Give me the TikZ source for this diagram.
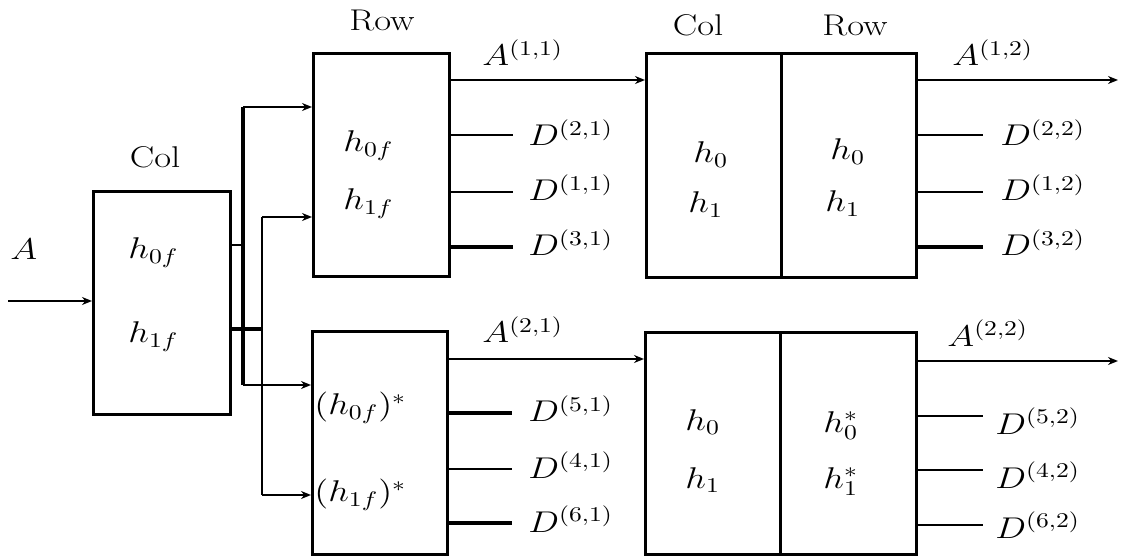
\RequirePackage{fix-cm}
\documentclass[tikz,border=0pt]{standalone}
\usepackage{graphicx}
\usetikzlibrary{arrows.meta}
\newcommand{\sx}[1]{\scalebox{1.22}[1]{#1}}
\begin{document}
\begin{tikzpicture}[x=0.5pt,y=-0.5pt,
  box/.style={draw,line width=1.3pt,inner sep=0pt,anchor=north west},
  txt/.style={inner sep=0pt,font=\fontsize{15}{18}\selectfont},
  lab/.style={txt,anchor=base west},
  ar/.style={line width=1.1pt,-{Stealth[length=5pt,width=4pt]}},
  ln/.style={line width=1.1pt},
  thk/.style={line width=1.6pt}]
\useasboundingbox (0,0) rectangle (1121,556);
% boxes
\node[box,minimum width=68.5pt,minimum height=111.5pt] (colA) at (92,190) {};
\node[box,minimum width=68pt,minimum height=111.5pt] (rowB) at (312,52) {};
\node[box,minimum width=67.5pt,minimum height=111.5pt] (rowC) at (311,330) {};
\node[box,minimum width=67.5pt,minimum height=112pt] (colD) at (645,52) {};
\node[box,minimum width=67.5pt,minimum height=112pt] (rowD) at (780,52) {};
\node[box,minimum width=67.5pt,minimum height=111pt] (colE) at (644,331) {};
\node[box,minimum width=68pt,minimum height=111pt] (rowE) at (779,331) {};
% headings
\node[txt] (hc1) at (155,157) {\sx{Col}};
\node[txt] (hr1) at (382,20) {\sx{Row}};
\node[txt] (hc2) at (698,25) {\sx{Col}};
\node[txt] (hr2) at (855,25) {\sx{Row}};
% inner labels
\node[lab] (t1) at (128,259) {\sx{$h_{0f}$}};
\node[lab] (t2) at (128,343) {\sx{$h_{1f}$}};
\node[lab] (t3) at (343,152) {\sx{$h_{0f}$}};
\node[lab] (t4) at (343,210) {\sx{$h_{1f}$}};
\node[lab] (t5) at (314,415) {\sx{$(h_{0f})^*$}};
\node[lab] (t6) at (314,502) {\sx{$(h_{1f})^*$}};
\node[lab] (t7) at (693,163) {\sx{$h_0$}};
\node[lab] (t8) at (688,213) {\sx{$h_1$}};
\node[lab] (t9) at (830,160) {\sx{$h_0$}};
\node[lab] (t10) at (825,212) {\sx{$h_1$}};
\node[lab] (t11) at (685,430) {\sx{$h_0$}};
\node[lab] (t12) at (685,488) {\sx{$h_1$}};
\node[lab] (t13) at (823,432) {\sx{$h_0^*$}};
\node[lab] (t14) at (823,488) {\sx{$h_1^*$}};
% input
\coordinate (in) at (8,301);
\draw[ar] (in) -- (in -| colA.west);
\node[lab] (lA) at (10,260) {\sx{$A$}};
% fan-out
\coordinate (p0) at (243,245); \coordinate (p0t) at (243,107); \coordinate (p0b) at (243,385);
\coordinate (p1) at (262,329); \coordinate (p1t) at (262,217); \coordinate (p1b) at (262,495);
\draw[ln] (p0 -| colA.east) -- (p0);
\draw[thk] (p1 -| colA.east) -- (p1);
\draw[thk] (p0t) -- (p0b);
\draw[ln] (p1t) -- (p1b);
\draw[ar] (p0t) -- (p0t -| rowB.west);
\draw[ar] (p1t) -- (p1t -| rowB.west);
\draw[ar] (p0b) -- (p0b -| rowC.west);
\draw[ar] (p1b) -- (p1b -| rowC.west);
% top-left outputs
\coordinate (a11) at (0,80);
\draw[ar] (a11 -| rowB.east) -- (a11 -| colD.west);
\node[lab] (la11) at (482,66) {\sx{$A^{(1,1)}$}};
\coordinate (d21) at (513,135); \draw[ln] (d21 -| rowB.east) -- (d21);
\coordinate (d11) at (513,192); \draw[ln] (d11 -| rowB.east) -- (d11);
\coordinate (d31) at (513,247); \draw[thk] (d31 -| rowB.east) -- (d31);
\node[lab] (ld21) at (528,146) {\sx{$D^{(2,1)}$}};
\node[lab] (ld11) at (528,201) {\sx{$D^{(1,1)}$}};
\node[lab] (ld31) at (528,256) {\sx{$D^{(3,1)}$}};
% bottom-left outputs
\coordinate (a21) at (0,359);
\draw[ar] (a21 -| rowC.east) -- (a21 -| colE.west);
\node[lab] (la21) at (482,343) {\sx{$A^{(2,1)}$}};
\coordinate (d51) at (512,413); \draw[thk] (d51 -| rowC.east) -- (d51);
\coordinate (d41) at (512,469); \draw[ln] (d41 -| rowC.east) -- (d41);
\coordinate (d61) at (512,523); \draw[thk] (d61 -| rowC.east) -- (d61);
\node[lab] (ld51) at (528,422) {\sx{$D^{(5,1)}$}};
\node[lab] (ld41) at (528,478) {\sx{$D^{(4,1)}$}};
\node[lab] (ld61) at (528,532) {\sx{$D^{(6,1)}$}};
% top-right outputs
\coordinate (a12) at (1118,80);
\draw[ar] (a12 -| rowD.east) -- (a12);
\node[lab] (la12) at (952,66) {\sx{$A^{(1,2)}$}};
\coordinate (d22) at (983,135); \draw[ln] (d22 -| rowD.east) -- (d22);
\coordinate (d12) at (983,192); \draw[ln] (d12 -| rowD.east) -- (d12);
\coordinate (d32) at (983,247); \draw[thk] (d32 -| rowD.east) -- (d32);
\node[lab] (ld22) at (1000,146) {\sx{$D^{(2,2)}$}};
\node[lab] (ld12) at (1000,201) {\sx{$D^{(1,2)}$}};
\node[lab] (ld32) at (1000,256) {\sx{$D^{(3,2)}$}};
% bottom-right outputs
\coordinate (a22) at (1118,361);
\draw[ar] (a22 -| rowE.east) -- (a22);
\node[lab] (la22) at (947,346) {\sx{$A^{(2,2)}$}};
\coordinate (d52) at (983,416); \draw[ln] (d52 -| rowE.east) -- (d52);
\coordinate (d42) at (983,470); \draw[ln] (d42 -| rowE.east) -- (d42);
\coordinate (d62) at (983,525); \draw[ln] (d62 -| rowE.east) -- (d62);
\node[lab] (ld52) at (995,434) {\sx{$D^{(5,2)}$}};
\node[lab] (ld42) at (995,488) {\sx{$D^{(4,2)}$}};
\node[lab] (ld62) at (995,538) {\sx{$D^{(6,2)}$}};
\end{tikzpicture}
\end{document}
